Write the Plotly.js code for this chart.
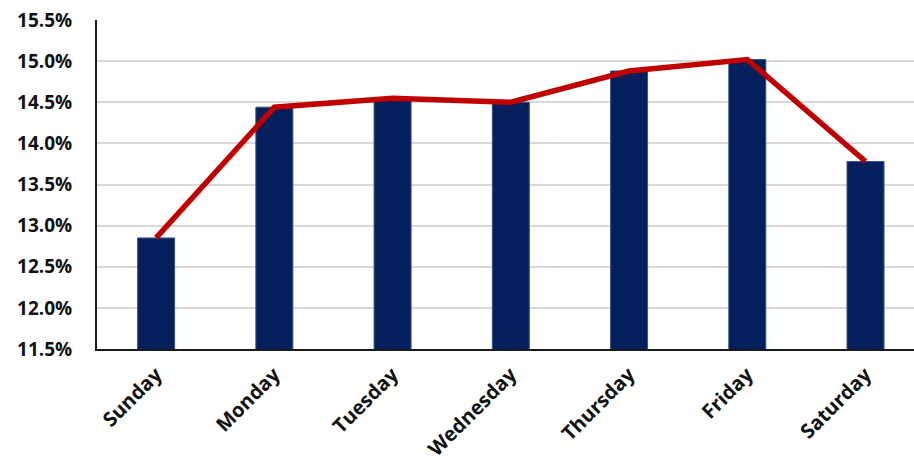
<!DOCTYPE html>
<html>
<head>
<meta charset="utf-8">
<script src="https://cdn.plot.ly/plotly-3.0.1.min.js"></script>
<style>
  html, body { margin: 0; padding: 0; background: #fff; }
  #chart { width: 914px; height: 465px; }
</style>
</head>
<body>
<div id="chart"></div>
<script>
// Share by day of week (percent)
var days = ['Sunday', 'Monday', 'Tuesday', 'Wednesday', 'Thursday', 'Friday', 'Saturday'];
var shares = [12.85, 14.44, 14.55, 14.50, 14.88, 15.02, 13.78];
var tickValues = [11.5, 12.0, 12.5, 13.0, 13.5, 14.0, 14.5, 15.0, 15.5];
var tickLabels = ['11.5%', '12.0%', '12.5%', '13.0%', '13.5%', '14.0%', '14.5%', '15.0%', '15.5%'];

var yFont = { family: 'Open Sans, Lato, sans-serif', size: 19, color: '#111111', weight: 700 };
var xFont = { family: 'Open Sans, Lato, sans-serif', size: 20, color: '#111111', weight: 700 };

var bars = {
  type: 'bar',
  x: days,
  y: shares,
  width: 0.313,
  marker: { color: '#03205C', line: { color: '#3A5283', width: 1 } },
  hoverinfo: 'x+y'
};

var trend = {
  type: 'scatter',
  mode: 'lines',
  x: days,
  y: shares,
  line: { color: '#C00000', width: 5.5 },
  hoverinfo: 'x+y'
};

var layout = {
  width: 914,
  height: 465,
  margin: { l: 97, r: 0, t: 20, b: 116 },
  paper_bgcolor: '#ffffff',
  plot_bgcolor: '#ffffff',
  showlegend: false,
  bargap: 0,
  xaxis: {
    type: 'category',
    range: [-0.5, 6.41],
    tickangle: -45,
    tickfont: xFont,
    showgrid: false,
    showline: true,
    linecolor: '#1a1a1a',
    linewidth: 2,
    ticks: '',
    ticklabelstandoff: 4,
    fixedrange: true
  },
  yaxis: {
    range: [11.5, 15.5],
    tickvals: tickValues,
    ticktext: tickLabels,
    tickfont: yFont,
    showgrid: true,
    gridcolor: '#D9D9D9',
    gridwidth: 2,
    showline: true,
    linecolor: '#1a1a1a',
    linewidth: 2,
    zeroline: false,
    ticks: '',
    ticklabelstandoff: 19,
    fixedrange: true
  }
};

Plotly.newPlot('chart', [bars, trend], layout, { displayModeBar: false, staticPlot: true });
</script>
</body>
</html>
